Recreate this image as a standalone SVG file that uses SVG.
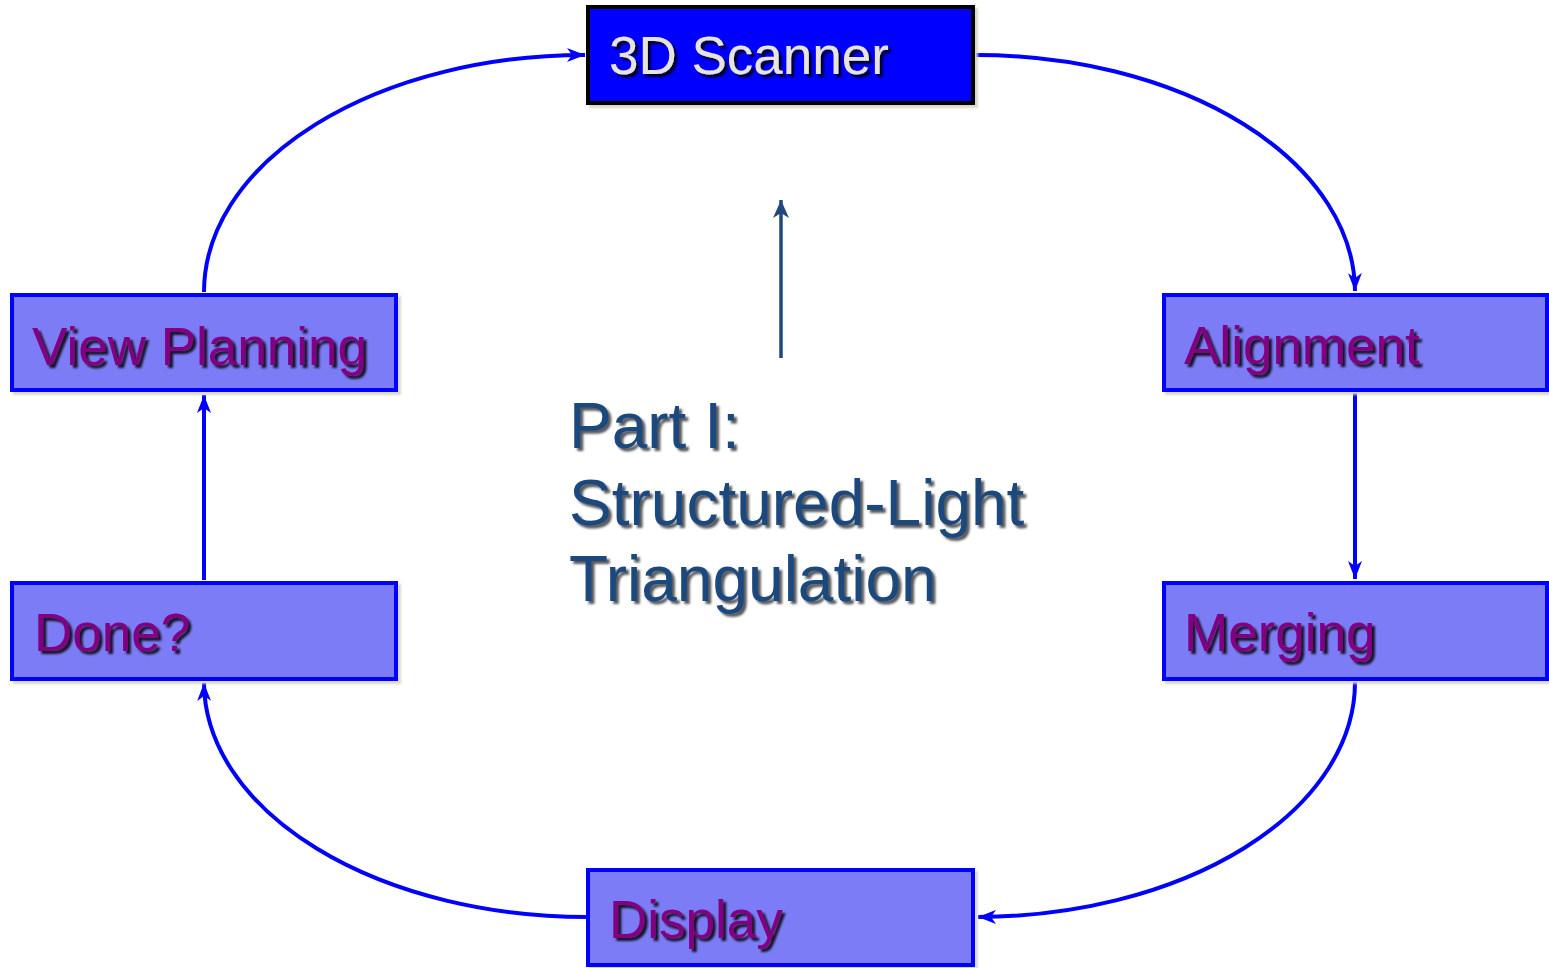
<svg xmlns="http://www.w3.org/2000/svg" width="1549" height="968" viewBox="0 0 1549 968">
<defs>
<style>
.box{fill:#7b7bf7;stroke:#0000ff;stroke-width:4}
.lbl{font-family:"Liberation Sans",Arial,sans-serif;font-size:53px;fill:#800080;filter:url(#ts)}
.conn{fill:none;stroke:#0000ff;stroke-width:4;marker-end:url(#ah)}
.part{font-family:"Liberation Sans",Arial,sans-serif;font-size:64px;fill:#1f497d;filter:url(#ts2)}
</style>
<filter id="ts" x="-10%" y="-20%" width="130%" height="150%"><feDropShadow dx="3" dy="3" stdDeviation="1" flood-color="#000" flood-opacity="0.85"/></filter>
<filter id="ts2" x="-10%" y="-20%" width="130%" height="150%"><feDropShadow dx="3" dy="3" stdDeviation="1" flood-color="#222" flood-opacity="0.75"/></filter>
<filter id="bs" x="-5%" y="-10%" width="115%" height="130%"><feDropShadow dx="3" dy="3" stdDeviation="1" flood-color="#d8d2c0" flood-opacity="0.9"/></filter>
<marker id="ah" markerUnits="userSpaceOnUse" markerWidth="20" markerHeight="14" refX="18" refY="7" orient="auto" viewBox="0 0 20 14">
<path d="M0,0 L18,7 L0,14 L5,7 z" fill="#0000ff"/>
</marker>
<marker id="ah2" markerUnits="userSpaceOnUse" markerWidth="20" markerHeight="16" refX="18" refY="8" orient="auto" viewBox="0 0 20 16">
<path d="M0,0 L18,8 L0,16 L5,8 z" fill="#1f497d"/>
</marker>
</defs>
<rect width="1549" height="968" fill="#ffffff"/>
<g id="connectors">
<path class="conn" d="M204,292 A381,237 0 0 1 585,55"/>
<path class="conn" d="M976,55 A379,237 0 0 1 1355,291"/>
<path class="conn" d="M1355,393 L1355,579"/>
<path class="conn" d="M1355,682 A379,235 0 0 1 978,917"/>
<path class="conn" d="M587,917 A383,235 0 0 1 204,683"/>
<path class="conn" d="M204,580 L204,395"/>
<path d="M781,358 L781,200" fill="none" stroke="#1f497d" stroke-width="3.5" marker-end="url(#ah2)"/>
</g>
<g id="scanner">
<rect x="588" y="7" width="385" height="96" fill="#0000ff" stroke="#000000" stroke-width="4" filter="url(#bs)"/>
<text x="609" y="74" font-family="Liberation Sans, Arial, sans-serif" font-size="53" fill="#e8e4dc" filter="url(#ts)">3D Scanner</text>
</g>
<g id="alignment">
<rect class="box" x="1164" y="295" width="383" height="95" filter="url(#bs)"/>
<text class="lbl" x="1184" y="364">Alignment</text>
</g>
<g id="merging">
<rect class="box" x="1164" y="583" width="383" height="96" filter="url(#bs)"/>
<text class="lbl" x="1184" y="651">Merging</text>
</g>
<g id="display">
<rect class="box" x="588" y="870" width="385" height="95" filter="url(#bs)"/>
<text class="lbl" x="609" y="938">Display</text>
</g>
<g id="done">
<rect class="box" x="12" y="583" width="384" height="96" filter="url(#bs)"/>
<text class="lbl" x="34" y="651">Done?</text>
</g>
<g id="viewplanning">
<rect class="box" x="12" y="295" width="384" height="95" filter="url(#bs)"/>
<text class="lbl" x="32" y="365">View Planning</text>
</g>
<g id="partI">
<text class="part" x="569" y="448">Part I:</text>
<text class="part" x="569" y="525">Structured-Light</text>
<text class="part" x="569" y="601">Triangulation</text>
</g>
</svg>
